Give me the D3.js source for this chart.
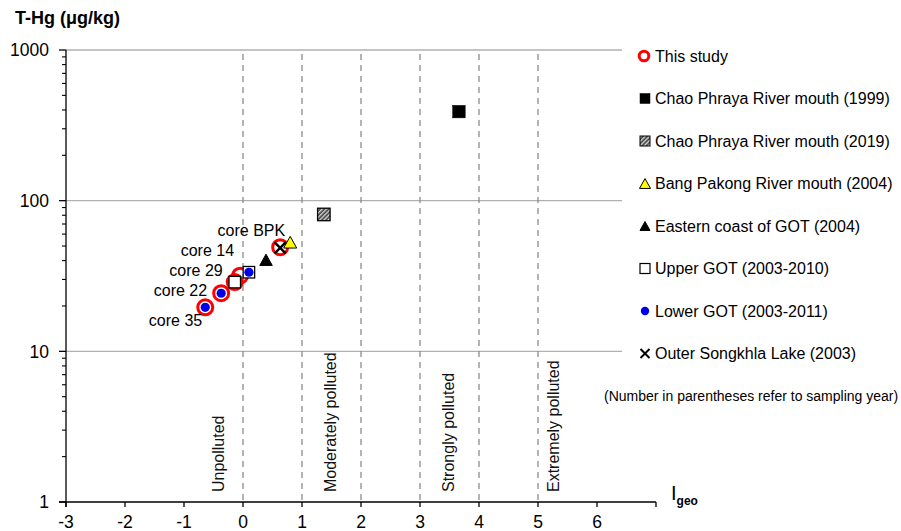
<!DOCTYPE html>
<html>
<head>
<meta charset="utf-8">
<script src="https://cdn.jsdelivr.net/npm/d3@7"></script>
<style>
  html, body { margin: 0; padding: 0; background: #fff; }
  svg { display: block; font-family: "Liberation Sans", Arial, sans-serif; }
</style>
</head>
<body>
<svg id="chart" width="901" height="531"></svg>
<script>
// Igeo (x) versus total mercury (y, log scale)
const xTicks = [-3, -2, -1, 0, 1, 2, 3, 4, 5, 6];
const yTicks = [1, 10, 100, 1000];
const classBounds = [0, 1, 2, 3, 4, 5];
const classLabels = ["Unpolluted", "Moderately polluted", "Strongly polluted", "Extremely polluted"];

const thisStudy = [
  { name: "core 35", igeo: -0.64, thg: 19.6 },
  { name: "core 22", igeo: -0.37, thg: 24.3 },
  { name: "core 29", igeo: -0.14, thg: 28.8 },
  { name: "core 14", igeo: -0.05, thg: 31.8 },
  { name: "core BPK", igeo: 0.63, thg: 49.1 }
];
const chaoPhraya1999 = [{ igeo: 3.66, thg: 390 }];
const chaoPhraya2019 = [{ igeo: 1.37, thg: 81 }];
const bangPakong2004 = [{ igeo: 0.80, thg: 53 }];
const easternCoast2004 = [{ igeo: 0.39, thg: 40.5 }];
const upperGOT = [{ igeo: -0.14, thg: 28.8 }, { igeo: 0.10, thg: 33.5 }];
const lowerGOT = [{ igeo: -0.64, thg: 19.6 }, { igeo: -0.37, thg: 24.3 }, { igeo: 0.10, thg: 33.5 }];
const outerSongkhla2003 = [{ igeo: 0.63, thg: 48.6 }];

const legendLabels = [
  "This study",
  "Chao Phraya River mouth (1999)",
  "Chao Phraya River mouth (2019)",
  "Bang Pakong River mouth (2004)",
  "Eastern coast of GOT (2004)",
  "Upper GOT (2003-2010)",
  "Lower GOT (2003-2011)",
  "Outer Songkhla Lake (2003)"
];
const legendNote = "(Number in parentheses refer to sampling year)";

// ---- layout ----
const plotLeft = 66, plotRight = 656, plotTop = 50, plotBottom = 502, gridRight = 622;
const classLabelX = [-0.42, 1.47, 3.47, 5.25];
const coreLabelOffsets = [[-3, 13], [-14, -3], [-12, -12], [-6, -25], [5, -17]];

const svg = d3.select("#chart");
const x = d3.scaleLinear().domain([-3, 7]).range([plotLeft, plotRight]);
const y = d3.scaleLog().domain([1, 1000]).range([plotBottom, plotTop]);

// hatch pattern for the 2019 marker
const defs = svg.append("defs");
const pat = defs.append("pattern").attr("id", "hatch")
  .attr("patternUnits", "userSpaceOnUse").attr("width", 3).attr("height", 3)
  .attr("patternTransform", "rotate(45)");
pat.append("rect").attr("width", 3).attr("height", 3).attr("fill", "#444");
pat.append("rect").attr("width", 1.3).attr("height", 3).attr("fill", "#ddd");

// horizontal gridlines
svg.append("g").selectAll("line").data(yTicks.filter(d => d > 1)).join("line")
  .attr("x1", plotLeft).attr("x2", gridRight)
  .attr("y1", d => y(d)).attr("y2", d => y(d))
  .attr("stroke", "#b0b0b0").attr("stroke-width", 1.3);

// class boundaries
svg.append("g").selectAll("line").data(classBounds).join("line")
  .attr("x1", d => x(d)).attr("x2", d => x(d))
  .attr("y1", plotTop + 4).attr("y2", plotBottom)
  .attr("stroke", "#8c8c8c").attr("stroke-width", 1.3)
  .attr("stroke-dasharray", "6,5");

// class labels (rotated)
svg.append("g").selectAll("text").data(classLabels).join("text")
  .attr("transform", (d, i) => `translate(${x(classLabelX[i]) + 6},492) rotate(-90)`)
  .attr("font-size", 16).attr("fill", "#111")
  .text(d => d);

// y axis
const yMinor = [];
for (let dec = 1; dec < 1000; dec *= 10) for (let k = 2; k <= 9; k++) yMinor.push(dec * k);
const yAxis = svg.append("g");
yAxis.append("line").attr("x1", plotLeft).attr("x2", plotLeft).attr("y1", plotTop).attr("y2", plotBottom + 5)
  .attr("stroke", "#000").attr("stroke-width", 1.3);
yAxis.selectAll(".mj").data(yTicks).join("line").attr("class", "mj")
  .attr("x1", plotLeft - 7).attr("x2", plotLeft).attr("y1", d => y(d)).attr("y2", d => y(d))
  .attr("stroke", "#000").attr("stroke-width", 1.3);
yAxis.selectAll(".mn").data(yMinor).join("line").attr("class", "mn")
  .attr("x1", plotLeft - 4).attr("x2", plotLeft).attr("y1", d => y(d)).attr("y2", d => y(d))
  .attr("stroke", "#000").attr("stroke-width", 1.1);
yAxis.selectAll("text").data(yTicks).join("text")
  .attr("x", plotLeft - 17).attr("y", d => y(d)).attr("dy", "0.36em")
  .attr("text-anchor", "end").attr("font-size", 17.5).attr("fill", "#000")
  .text(d => d);

// x axis
const xAxis = svg.append("g");
xAxis.append("line").attr("x1", plotLeft - 7).attr("x2", plotRight).attr("y1", plotBottom).attr("y2", plotBottom)
  .attr("stroke", "#000").attr("stroke-width", 1.3);
xAxis.selectAll("line.t").data(xTicks.concat([7])).join("line").attr("class", "t")
  .attr("x1", d => x(d)).attr("x2", d => x(d)).attr("y1", plotBottom).attr("y2", plotBottom + 5)
  .attr("stroke", "#000").attr("stroke-width", 1.3);
xAxis.selectAll("text").data(xTicks).join("text")
  .attr("x", d => x(d)).attr("y", 522).attr("dy", "0.36em")
  .attr("text-anchor", "middle").attr("font-size", 17.5).attr("fill", "#000")
  .text(d => d);

// axis titles
svg.append("text").attr("x", 15).attr("y", 24).attr("font-size", 18).attr("font-weight", "bold")
  .text("T-Hg (μg/kg)");
const xt = svg.append("text").attr("x", 671).attr("y", 500).attr("font-weight", "bold");
xt.append("tspan").attr("font-size", 20).attr("font-weight", "normal").text("I");
xt.append("tspan").attr("font-size", 12).attr("dy", 5).text("geo");

// ---- marker helpers ----
function circleRed(g, cx, cy, r) {
  g.append("circle").attr("cx", cx).attr("cy", cy).attr("r", r)
    .attr("fill", "none").attr("stroke", "#ff0000").attr("stroke-width", 3);
}
function square(g, cx, cy, s, fill, strokeW) {
  g.append("rect").attr("x", cx - s / 2).attr("y", cy - s / 2).attr("width", s).attr("height", s)
    .attr("fill", fill).attr("stroke", "#000").attr("stroke-width", strokeW);
}
function triangle(g, cx, cy, s, fill, stroke) {
  const h = s * 0.9;
  g.append("path").attr("d", `M${cx},${cy - h / 2}L${cx + s / 2},${cy + h / 2}L${cx - s / 2},${cy + h / 2}Z`)
    .attr("fill", fill).attr("stroke", stroke).attr("stroke-width", 1);
}
function cross(g, cx, cy, s, w) {
  g.append("path").attr("d", `M${cx - s / 2},${cy - s / 2}L${cx + s / 2},${cy + s / 2}M${cx + s / 2},${cy - s / 2}L${cx - s / 2},${cy + s / 2}`)
    .attr("stroke", "#000").attr("stroke-width", w).attr("fill", "none");
}
function dot(g, cx, cy, r) {
  g.append("circle").attr("cx", cx).attr("cy", cy).attr("r", r).attr("fill", "#0000e6");
}

// ---- data marks ----
const marks = svg.append("g");
thisStudy.forEach(d => circleRed(marks, x(d.igeo), y(d.thg), 7.5));
upperGOT.forEach(d => square(marks, x(d.igeo), y(d.thg), 11.5, "#fff", 1.3));
lowerGOT.forEach(d => dot(marks, x(d.igeo), y(d.thg), 4.6));
easternCoast2004.forEach(d => triangle(marks, x(d.igeo), y(d.thg), 12.5, "#000", "#000"));
outerSongkhla2003.forEach(d => cross(marks, x(d.igeo), y(d.thg), 11, 2.4));
bangPakong2004.forEach(d => triangle(marks, x(d.igeo), y(d.thg), 13, "#ffff00", "#000"));
chaoPhraya2019.forEach(d => square(marks, x(d.igeo), y(d.thg), 12.5, "url(#hatch)", 1.3));
chaoPhraya1999.forEach(d => square(marks, x(d.igeo), y(d.thg), 12.5, "#000", 0.5));

// core labels
svg.append("g").selectAll("text").data(thisStudy).join("text")
  .attr("x", (d, i) => x(d.igeo) + coreLabelOffsets[i][0])
  .attr("y", (d, i) => y(d.thg) + coreLabelOffsets[i][1])
  .attr("dy", "0.36em").attr("text-anchor", "end").attr("font-size", 16).attr("fill", "#000")
  .text(d => d.name);

// ---- legend ----
const lg = svg.append("g");
const lx = 644, ly0 = 56, lstep = 42.5;
legendLabels.forEach((t, i) => {
  const cy = ly0 + i * lstep;
  if (i === 0) circleRed(lg, lx, cy, 4.8);
  else if (i === 1) square(lg, lx + 1, cy, 10, "#000", 0.5);
  else if (i === 2) square(lg, lx + 1, cy, 10, "url(#hatch)", 1);
  else if (i === 3) triangle(lg, lx + 1, cy, 11, "#ffff00", "#000");
  else if (i === 4) triangle(lg, lx + 1, cy, 10, "#000", "#000");
  else if (i === 5) square(lg, lx + 1, cy, 10, "#fff", 1.2);
  else if (i === 6) dot(lg, lx + 1, cy, 4.2);
  else cross(lg, lx + 1, cy, 9, 2);
  lg.append("text").attr("x", 655).attr("y", cy).attr("dy", "0.36em")
    .attr("font-size", 16).attr("fill", "#000").text(t);
});
lg.append("text").attr("x", 604).attr("y", ly0 + 8 * lstep).attr("dy", "0.36em")
  .attr("font-size", 14).attr("fill", "#000").text(legendNote);
</script>
</body>
</html>
